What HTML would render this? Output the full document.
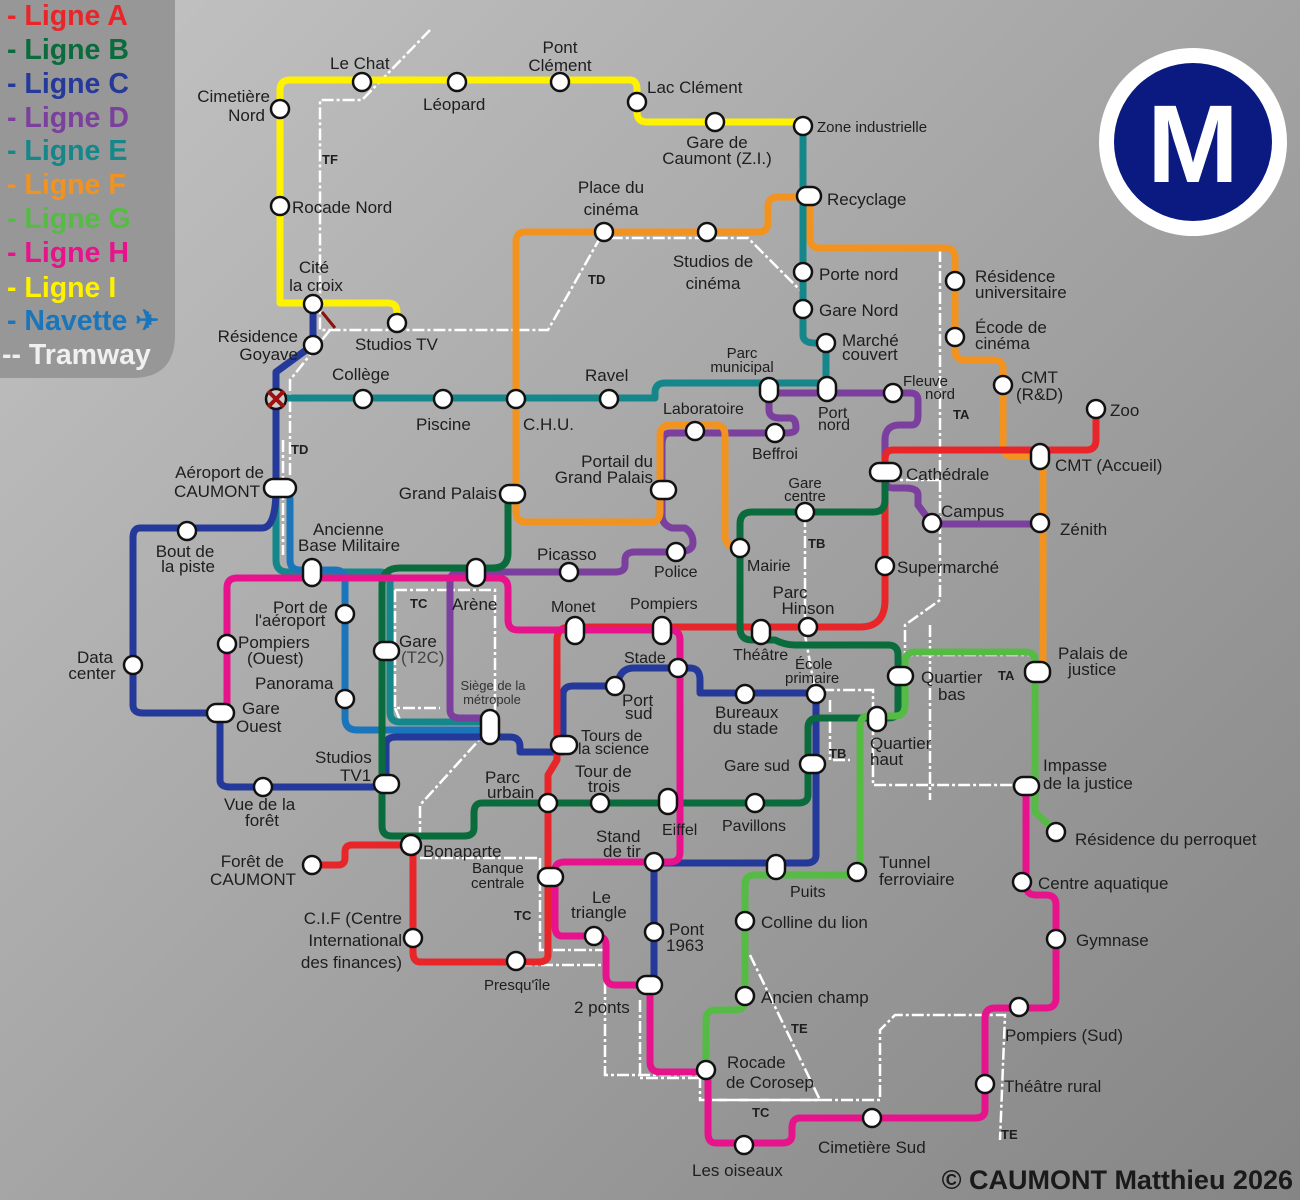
<!DOCTYPE html>
<html><head><meta charset="utf-8"><style>
html,body{margin:0;padding:0}
body{width:1300px;height:1200px;overflow:hidden;background:linear-gradient(135deg,#c4c4c4 0%,#a4a4a4 50%,#858585 100%)}
svg{position:absolute;left:0;top:0}
text{font-family:"Liberation Sans",sans-serif;fill:#1e1e1e}
.l{fill:none;stroke-width:7;stroke-linejoin:round;stroke-linecap:round}
.t{fill:none;stroke:#fff;stroke-width:2.5;stroke-dasharray:12 3 3 3}
.s{fill:#fff;stroke:#111;stroke-width:2.5}
.tl{fill:#fff;font-weight:bold;font-size:13px}
.lg{font-weight:bold;font-size:28.5px}
</style></head><body>
<svg width="1300" height="1200" viewBox="0 0 1300 1200">
<!-- legend -->
<path d="M0 0H175V335Q175 378 132 378H0Z" fill="#979797"/>
<g class="lg">
<text x="7" y="25" style="fill:#e8262a">- Ligne A</text>
<text x="7" y="59" style="fill:#0a6b3c">- Ligne B</text>
<text x="7" y="93" style="fill:#24399a">- Ligne C</text>
<text x="7" y="127" style="fill:#7b3f9e">- Ligne D</text>
<text x="7" y="160" style="fill:#15878a">- Ligne E</text>
<text x="7" y="194" style="fill:#f3931f">- Ligne F</text>
<text x="7" y="228" style="fill:#55bb45">- Ligne G</text>
<text x="7" y="262" style="fill:#e6138c">- Ligne H</text>
<text x="7" y="297" style="fill:#fff200">- Ligne I</text>
<text x="7" y="330" style="fill:#1a75bb">- Navette ✈</text>
<text x="2" y="364" style="fill:#f0f0f0">-- Tramway</text>
</g>
<!-- logo -->
<circle cx="1193" cy="142" r="94" fill="#fff"/>
<circle cx="1193" cy="142" r="79" fill="#0a1a80"/>
<text x="1193" y="182" text-anchor="middle" style="fill:#fff;font-weight:bold;font-size:110px">M</text>

<!-- tramway -->
<g class="t">
<path d="M430 30L362 100H320V330H548L600 238H748L800 290"/>
<path d="M330 330L290 380V560"/>
<path d="M283 440L283 555"/>
<path d="M395 590H495V720 M395 590V708H440"/>
<path d="M395 708L400 720"/>
<path d="M490 728L420 805V838"/>
<path d="M540 858V950H605V1075H700V1100H820L800 1100"/>
<path d="M420 858H540 M520 965H605"/>
<path d="M640 1000V1078H700"/>
<path d="M805 515V630 M805 635L815 690H873V785H1015"/>
<path d="M940 250V480H900 M940 480V600L905 625V655H1037"/>
<path d="M830 700V760H850"/>
<path d="M750 955L820 1100 M715 1100H880V1030L895 1015H1005L1000 1140"/>
<path d="M930 625V800"/>
</g>

<!-- Line I yellow -->
<path class="l" stroke="#fff200" d="M397 323V312Q397 303 388 303H280V90Q280 80 290 80H630Q637 80 637 90V112Q637 122 647 122H803"/>
<!-- Line E teal -->
<path class="l" stroke="#15878a" d="M803 126V335Q803 343 815 343H826V383H665Q655 383 655 393V398H276V560Q276 572 288 572H380Q390 572 390 582V712Q390 722 400 722H490"/>
<!-- Line C navy -->
<path class="l" stroke="#24399a" d="M313 304V345L276 372V488Q276 528 262 528H140Q133 528 133 538V705Q133 713 143 713H220V780Q220 787 230 787H386V745Q386 737 396 737H510Q520 737 520 747V752H563V695Q563 686 573 686H615L620 676Q624 668 634 668H690Q700 668 700 680V693H816V855Q816 863 806 863H654V985"/>
<!-- Navette -->
<path class="l" stroke="#1a75bb" d="M279 488Q290 488 290 500V560Q290 570 300 570H335Q345 570 345 580V718Q345 730 357 730H490"/>
<!-- Line D purple -->
<path class="l" stroke="#7b3f9e" d="M1040 524H932L918 505V495Q918 488 905 488H893Q885 488 885 478V440Q885 425 900 425H912Q918 425 918 415V400Q918 393 910 393H769V410Q769 418 780 418H790Q796 418 796 428Q796 433 786 433H670Q662 433 662 445V515Q662 525 672 528H685Q693 533 693 543Q693 552 676 552H635Q625 552 625 560V565Q625 572 615 572H460Q450 572 450 582V710Q450 718 460 718H490"/>
<!-- Line F orange -->
<path class="l" stroke="#f3931f" d="M1037 672H1043V460Q1043 456 1030 456H1012Q1003 456 1003 445V368Q1003 360 993 360H965Q955 360 955 350V258Q955 248 945 248H820Q810 248 810 238V197H778Q768 197 768 207V222Q768 232 758 232H525Q516 232 516 242V512Q516 522 526 522H650Q660 522 660 512V435Q660 425 670 425H715Q725 425 725 435V535Q725 548 740 548"/>
<!-- Line A red -->
<path class="l" stroke="#e8262a" d="M1096 409V440Q1096 450 1086 450H893Q885 450 885 460V600Q885 627 860 627H570Q557 627 557 640V760L548 775V955Q548 962 538 962H420Q413 962 413 952V845H352Q345 845 345 852V858Q345 865 338 865H312"/>
<!-- Line B green -->
<path class="l" stroke="#0a6b3c" d="M885 472V500Q885 512 873 512H752Q740 512 740 524V628Q740 640 752 640H775Q785 645 795 645H888Q898 645 898 655V710Q898 718 888 718H818Q808 718 808 728V795Q808 803 798 803H482Q474 803 474 813V828Q474 836 464 836H392Q382 836 382 826V585Q382 568 400 568H493Q508 568 508 553V494"/>
<!-- Line G light green -->
<path class="l" stroke="#55bb45" d="M1056 832L1035 812V660Q1035 652 1025 652H915Q905 652 905 662V705Q905 716 895 716H868Q860 716 860 728V868Q860 875 850 875H755Q745 875 745 885V1000Q745 1010 735 1010H716Q706 1010 706 1020V1070"/>
<!-- Line H magenta -->
<path class="l" stroke="#e6138c" d="M1026 786V885Q1026 895 1036 895H1046Q1056 895 1056 905V998Q1056 1008 1046 1008H995Q985 1008 985 1018V1110Q985 1118 975 1118H800Q792 1118 792 1128V1135Q792 1143 782 1143H716Q708 1143 708 1133V1072H660Q650 1072 650 1062V992Q650 985 640 985H615Q606 985 606 975V945Q606 936 596 936H562Q555 936 555 926V870Q555 862 565 862H670Q680 862 680 852V640Q680 630 670 630H518Q508 630 508 620V588Q508 578 498 578H237Q227 578 227 588V713"/>

<!-- stations -->
<g class="s">
<circle cx="280" cy="109" r="9"/><circle cx="362" cy="82" r="9"/><circle cx="457" cy="82" r="9"/><circle cx="560" cy="82" r="9"/><circle cx="637" cy="102" r="9"/><circle cx="715" cy="122" r="9"/><circle cx="803" cy="126" r="9"/><circle cx="280" cy="206" r="9"/><circle cx="313" cy="304" r="9"/><circle cx="397" cy="323" r="9"/>
<rect x="797" y="187" width="24" height="18" rx="9"/><circle cx="803" cy="272" r="9"/><circle cx="803" cy="309" r="9"/><circle cx="826" cy="343" r="9"/>
<rect x="760" y="378" width="18" height="24" rx="9"/><rect x="818" y="377" width="18" height="24" rx="9"/><circle cx="893" cy="393" r="9"/>
<circle cx="609" cy="399" r="9"/><circle cx="516" cy="399" r="9"/><circle cx="443" cy="399" r="9"/><circle cx="363" cy="399" r="9"/><circle cx="313" cy="345" r="9"/>
<circle cx="276" cy="399" r="10" fill="#ccc"/>
<rect x="264" y="479" width="32" height="18" rx="9"/><circle cx="187" cy="531" r="9"/><circle cx="133" cy="665" r="9"/><rect x="207" y="704" width="27" height="18" rx="9"/><circle cx="263" cy="787" r="9"/><circle cx="227" cy="644" r="9"/>
<rect x="303" y="559" width="18" height="27" rx="9"/><circle cx="345" cy="614" r="9"/><circle cx="345" cy="699" r="9"/>
<rect x="374" y="642" width="25" height="18" rx="9"/><rect x="374" y="775" width="25" height="18" rx="9"/><circle cx="411" cy="845" r="10"/><circle cx="312" cy="865" r="9"/><circle cx="413" cy="938" r="9"/><circle cx="516" cy="961" r="9"/>
<rect x="467" y="559" width="18" height="27" rx="9"/><circle cx="569" cy="572" r="9"/><circle cx="676" cy="552" r="9"/><rect x="500" y="485" width="25" height="18" rx="9"/><rect x="651" y="481" width="25" height="18" rx="9"/>
<circle cx="695" cy="431" r="9"/><circle cx="775" cy="433" r="9"/><circle cx="740" cy="548" r="9"/><circle cx="805" cy="512" r="9"/>
<rect x="870" y="463" width="31" height="18" rx="9"/><circle cx="885" cy="566" r="9"/><circle cx="932" cy="523" r="9"/><circle cx="1040" cy="523" r="9"/><rect x="1031" y="444" width="18" height="25" rx="9"/><circle cx="1003" cy="385" r="9"/><circle cx="1096" cy="409" r="9"/><circle cx="955" cy="337" r="9"/><circle cx="955" cy="281" r="9"/>
<circle cx="604" cy="232" r="9"/><circle cx="707" cy="232" r="9"/>
<rect x="566" y="617" width="18" height="27" rx="9"/><rect x="653" y="617" width="18" height="27" rx="9"/><circle cx="808" cy="627" r="9"/><rect x="752" y="620" width="18" height="24" rx="9"/>
<rect x="481" y="710" width="18" height="34" rx="9"/><circle cx="615" cy="686" r="9"/><circle cx="678" cy="668" r="9"/><rect x="551" y="736" width="26" height="18" rx="9"/><circle cx="745" cy="694" r="9"/><circle cx="816" cy="694" r="9"/>
<rect x="888" y="667" width="25" height="18" rx="9"/><rect x="868" y="707" width="18" height="24" rx="9"/><rect x="1025" y="662" width="25" height="20" rx="9"/><rect x="800" y="755" width="25" height="18" rx="9"/><rect x="1014" y="777" width="25" height="18" rx="9"/><circle cx="1056" cy="832" r="9"/>
<circle cx="548" cy="803" r="9"/><circle cx="600" cy="803" r="9"/><rect x="659" y="789" width="18" height="25" rx="9"/><circle cx="755" cy="803" r="9"/>
<circle cx="654" cy="862" r="9"/><rect x="767" y="855" width="18" height="24" rx="9"/><circle cx="857" cy="872" r="9"/><rect x="538" y="868" width="25" height="18" rx="9"/><circle cx="594" cy="936" r="9"/><circle cx="654" cy="932" r="9"/><rect x="637" y="976" width="25" height="18" rx="9"/>
<circle cx="745" cy="921" r="9"/><circle cx="745" cy="996" r="9"/><circle cx="706" cy="1070" r="9"/><circle cx="744" cy="1145" r="9"/><circle cx="872" cy="1118" r="9"/><circle cx="985" cy="1084" r="9"/><circle cx="1019" cy="1007" r="9"/><circle cx="1056" cy="939" r="9"/><circle cx="1022" cy="882" r="9"/>
</g>
<path d="M268 391L284 407M284 391L268 407" stroke="#a01010" stroke-width="4"/>
<path d="M322 312L335 328" stroke="#8b1010" stroke-width="3"/>

<!-- tram labels -->
<g class="tl">
<text x="322" y="164">TF</text><text x="588" y="284">TD</text><text x="291" y="454">TD</text><text x="410" y="608">TC</text><text x="514" y="920">TC</text><text x="752" y="1117">TC</text>
<text x="808" y="548">TB</text><text x="829" y="758">TB</text><text x="953" y="419">TA</text><text x="998" y="680">TA</text><text x="791" y="1033">TE</text><text x="1001" y="1139">TE</text>
</g>

<!-- labels -->
<g font-size="17">
<text x="330" y="69">Le Chat</text>
<text x="560" y="53" text-anchor="middle">Pont</text><text x="560" y="71" text-anchor="middle">Clément</text>
<text x="423" y="110">Léopard</text>
<text x="647" y="93">Lac Clément</text>
<text x="270" y="102" text-anchor="end">Cimetière</text><text x="265" y="121" text-anchor="end">Nord</text>
<text x="717" y="148" text-anchor="middle">Gare de</text><text x="717" y="164" text-anchor="middle">Caumont (Z.I.)</text>
<text x="817" y="132" font-size="15">Zone industrielle</text>
<text x="292" y="213">Rocade Nord</text>
<text x="827" y="205">Recyclage</text>
<text x="611" y="193" text-anchor="middle">Place du</text><text x="611" y="215" text-anchor="middle">cinéma</text>
<text x="713" y="267" text-anchor="middle">Studios de</text><text x="713" y="289" text-anchor="middle">cinéma</text>
<text x="314" y="273" text-anchor="middle">Cité</text><text x="316" y="291" text-anchor="middle">la croix</text>
<text x="355" y="350">Studios TV</text>
<text x="298" y="342" text-anchor="end">Résidence</text><text x="298" y="360" text-anchor="end">Goyave</text>
<text x="819" y="280">Porte nord</text><text x="819" y="316">Gare Nord</text>
<text x="842" y="346">Marché</text><text x="842" y="360">couvert</text>
<text x="975" y="282">Résidence</text><text x="975" y="298">universitaire</text>
<text x="975" y="333">Écode de</text><text x="975" y="349">cinéma</text>
<text x="1021" y="383">CMT</text><text x="1016" y="400">(R&amp;D)</text>
<text x="1110" y="416">Zoo</text>
<text x="1055" y="471">CMT (Accueil)</text>
<text x="742" y="358" font-size="15" text-anchor="middle">Parc</text><text x="742" y="372" font-size="15" text-anchor="middle">municipal</text>
<text x="903" y="386" font-size="15">Fleuve</text><text x="925" y="399" font-size="15">nord</text>
<text x="818" y="418" font-size="16">Port</text><text x="818" y="430" font-size="16">nord</text>
<text x="332" y="380">Collège</text><text x="585" y="381">Ravel</text>
<text x="416" y="430">Piscine</text><text x="523" y="430">C.H.U.</text>
<text x="663" y="414" font-size="16">Laboratoire</text>
<text x="752" y="459" font-size="16">Beffroi</text>
<text x="906" y="480">Cathédrale</text>
<text x="264" y="478" text-anchor="end">Aéroport de</text><text x="260" y="497" text-anchor="end">CAUMONT</text>
<text x="497" y="499" text-anchor="end">Grand Palais</text>
<text x="653" y="467" text-anchor="end">Portail du</text><text x="653" y="483" text-anchor="end">Grand Palais</text>
<text x="805" y="488" font-size="15" text-anchor="middle">Gare</text><text x="805" y="501" font-size="15" text-anchor="middle">centre</text>
<text x="941" y="517">Campus</text><text x="1060" y="535">Zénith</text>
<text x="313" y="535">Ancienne</text><text x="298" y="551">Base Militaire</text>
<text x="537" y="560">Picasso</text><text x="654" y="577" font-size="16">Police</text>
<text x="747" y="571" font-size="16">Mairie</text><text x="897" y="573">Supermarché</text>
<text x="185" y="557" text-anchor="middle">Bout de</text><text x="188" y="572" text-anchor="middle">la piste</text>
<text x="273" y="613">Port de</text><text x="255" y="626">l'aéroport</text>
<text x="452" y="610">Arène</text>
<text x="551" y="612" font-size="16">Monet</text><text x="630" y="609" font-size="16">Pompiers</text>
<text x="790" y="598" text-anchor="middle">Parc</text><text x="808" y="614" text-anchor="middle">Hinson</text>
<text x="238" y="648">Pompiers</text><text x="247" y="664">(Ouest)</text>
<text x="399" y="647">Gare</text><text x="401" y="663" style="fill:#444">(T2C)</text>
<text x="95" y="663" text-anchor="middle">Data</text><text x="92" y="679" text-anchor="middle">center</text>
<text x="733" y="660" font-size="16">Théâtre</text>
<text x="795" y="669" font-size="15">École</text><text x="785" y="683" font-size="15">primaire</text>
<text x="624" y="663" font-size="16">Stade</text>
<text x="1058" y="659">Palais de</text><text x="1068" y="675">justice</text>
<text x="921" y="683">Quartier</text><text x="938" y="700">bas</text>
<text x="255" y="689">Panorama</text>
<text x="493" y="690" font-size="13" text-anchor="middle" style="fill:#333">Siège de la</text><text x="492" y="704" font-size="13" text-anchor="middle" style="fill:#333">métropole</text>
<text x="622" y="706">Port</text><text x="625" y="719">sud</text>
<text x="715" y="718">Bureaux</text><text x="713" y="734">du stade</text>
<text x="242" y="714">Gare</text><text x="236" y="732">Ouest</text>
<text x="581" y="741" font-size="16">Tours de</text><text x="578" y="754" font-size="16">la science</text>
<text x="870" y="749">Quartier</text><text x="870" y="765">haut</text>
<text x="315" y="763">Studios</text><text x="340" y="781">TV1</text>
<text x="724" y="771" font-size="16">Gare sud</text>
<text x="1043" y="771">Impasse</text><text x="1043" y="789">de la justice</text>
<text x="575" y="777">Tour de</text><text x="588" y="792">trois</text>
<text x="485" y="783">Parc</text><text x="487" y="798">urbain</text>
<text x="224" y="810">Vue de la</text><text x="245" y="826">forêt</text>
<text x="722" y="831" font-size="16">Pavillons</text><text x="662" y="835" font-size="16">Eiffel</text>
<text x="1075" y="845">Résidence du perroquet</text>
<text x="596" y="842">Stand</text><text x="603" y="857">de tir</text>
<text x="423" y="857">Bonaparte</text>
<text x="284" y="867" text-anchor="end">Forêt de</text><text x="296" y="885" text-anchor="end">CAUMONT</text>
<text x="472" y="873" font-size="15">Banque</text><text x="471" y="888" font-size="15">centrale</text>
<text x="879" y="868">Tunnel</text><text x="879" y="885">ferroviaire</text>
<text x="1038" y="889">Centre aquatique</text>
<text x="790" y="897" font-size="16">Puits</text>
<text x="592" y="903">Le</text><text x="571" y="918">triangle</text>
<text x="402" y="924" text-anchor="end">C.I.F (Centre</text><text x="402" y="946" text-anchor="end">International</text><text x="402" y="968" text-anchor="end">des finances)</text>
<text x="761" y="928">Colline du lion</text>
<text x="669" y="935">Pont</text><text x="666" y="951">1963</text>
<text x="1076" y="946">Gymnase</text>
<text x="484" y="990" font-size="15">Presqu'île</text>
<text x="574" y="1013">2 ponts</text>
<text x="761" y="1003">Ancien champ</text>
<text x="1005" y="1041">Pompiers (Sud)</text>
<text x="727" y="1068">Rocade</text><text x="726" y="1088">de Corosep</text>
<text x="1004" y="1092">Théâtre rural</text>
<text x="818" y="1153">Cimetière Sud</text>
<text x="692" y="1176">Les oiseaux</text>
</g>
<text x="1293" y="1189" text-anchor="end" style="font-weight:bold;font-size:27px;fill:#1a1a1a">© CAUMONT Matthieu 2026</text>
</svg>
</body></html>
